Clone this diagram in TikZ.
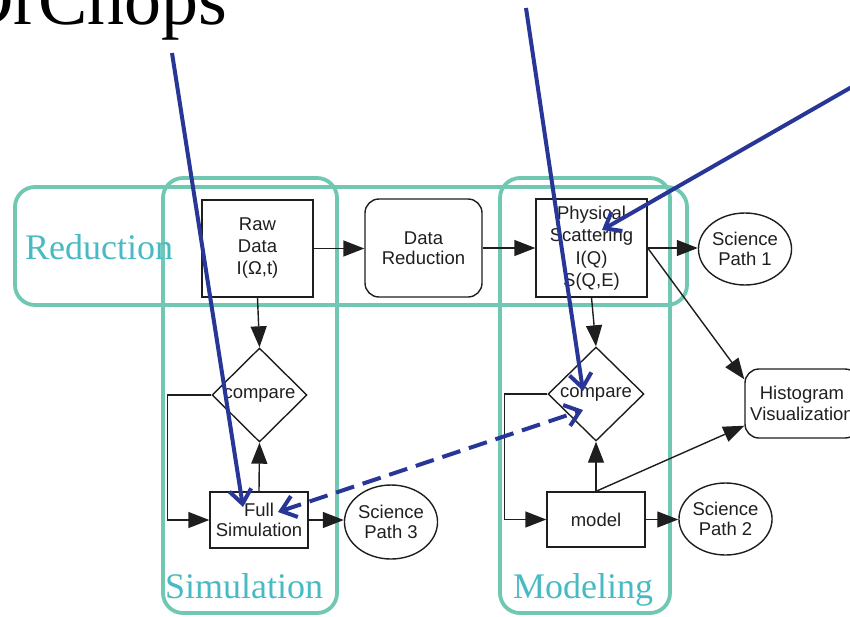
\documentclass[tikz,border=0pt]{standalone}
\usepackage{fontspec}
\setmainfont{Liberation Serif}
\newfontfamily\flowfont{Liberation Sans}
\usetikzlibrary{arrows.meta,shapes.geometric,calc}

\definecolor{groupline}{RGB}{112,200,178}
\definecolor{grouptext}{RGB}{72,186,196}
\definecolor{noteblue}{RGB}{40,54,152}
\definecolor{flowline}{RGB}{30,30,30}

\begin{document}
\begin{tikzpicture}[x=1pt,y=-1pt,
  group/.style={draw=groupline, line width=3.8pt, rounded corners=20pt},
  grouplabel/.style={text=grouptext, font=\fontsize{36}{40}\selectfont, inner sep=0pt, anchor=base west},
  flowtext/.style={font=\flowfont\fontsize{18.5}{20.5}\selectfont, align=center, text=black!88, inner sep=0pt},
  process/.style={flowtext, rectangle, draw=flowline, line width=1.4pt},
  rprocess/.style={process, rounded corners=14pt},
  decision/.style={flowtext, diamond, draw=flowline, line width=1.4pt},
  terminal/.style={flowtext, ellipse, draw=flowline, line width=1.4pt},
  flow/.style={draw=flowline, line width=1.4pt, -{Triangle[length=21pt,width=16pt]}},
  note/.style={draw=noteblue, line width=4pt, -{Straight Barb[length=14pt,width=22pt]}},
  twonote/.style={draw=noteblue, line width=4pt, dash pattern=on 19pt off 9pt,
    {Straight Barb[length=14pt,width=22pt]}-{Straight Barb[length=14pt,width=22pt]}}
]
\useasboundingbox (0,0) rectangle (850,616);
\clip (0,0) rectangle (850,616);

% work-area groups
\draw[group] (15,187) rectangle (687,305);
\draw[group] (163,178) rectangle (337,613);
\draw[group] (500,178) rectangle (670,613);
\node[grouplabel] (lblred) at (25,259) {Reduction};
\node[grouplabel] (lblsim) at (165,598) {Simulation};
\node[grouplabel] (lblmod) at (513,598) {Modeling};

% processing chain
\node[process, minimum width=111pt, minimum height=97pt, font=\flowfont\fontsize{18.5}{22}\selectfont]
  (raw) at (257.5,248.5) {Raw\\Data\\I(Ω,t)};
\node[rprocess, minimum width=117pt, minimum height=98pt] (dred) at (423.5,248) {Data\\Reduction};
\node[process, minimum width=111pt, minimum height=98pt, font=\flowfont\fontsize{18.5}{22.5}\selectfont]
  (phys) at (591.5,248) {Physical\\Scattering\\I(Q)\\S(Q,E)};
\node[terminal, minimum width=80pt, minimum height=72pt] (sp1) at (745,249) {Science\\Path 1};
\node[rprocess, minimum width=114pt, minimum height=69pt] (hist) at (802,403.5) {Histogram\\Visualization};

% simulation loop
\node[decision, minimum width=95pt, minimum height=94pt] (cmp1) at (259.5,395) {compare};
\node[process, minimum width=98pt, minimum height=56pt] (sim) at (259,520) {Full\\Simulation};
\node[terminal, minimum width=82pt, minimum height=74pt] (sp3) at (391,522) {Science\\Path 3};

% modeling loop
\node[decision, minimum width=96pt, minimum height=94pt] (cmp2) at (596,394) {compare};
\node[process, minimum width=98pt, minimum height=55pt] (model) at (596,519.5) {model};
\node[terminal, minimum width=81pt, minimum height=72pt] (sp2) at (725.5,519) {Science\\Path 2};

% flow connectors
\draw[flow] (raw.east) -- (raw.east -| dred.west);
\draw[flow] (dred.east) -- (dred.east -| phys.west);
\draw[flow] (phys.east) -- (phys.east -| sp1.west);
\draw[flow] (phys.east) -- ([yshift=-11pt]hist.north west);
\draw[flow] (raw.south) -- (cmp1.north);
\draw[flow] (sim.north) -- (cmp1.south);
\draw[flow] (cmp1.west) -- ++(-44,0) |- (sim.west);
\draw[flow] (sim.east) -- (sim.east -| sp3.west);
\draw[flow] (phys.south) -- (cmp2.north);
\draw[flow] (model.north) -- (cmp2.south);
\draw[flow] (cmp2.west) -- ++(-43,0) |- (model.west);
\draw[flow] (model.east) -- (model.east -| sp2.west);
\draw[flow] (model.north) -- ([yshift=13pt]hist.south west);

% annotation pointers
\coordinate (noteL) at (172,53);
\coordinate (noteM) at (526,8);
\coordinate (noteR) at (858,83.4);
\coordinate (simtip) at ($(sim.center)+(-16,-13)$);
\coordinate (cmptip) at ($(cmp2.center)+(-13,-3)$);
\coordinate (phystip) at ($(phys.center)+(10.5,-18)$);
\coordinate (simlink) at ($(sim.center)+(19,-8)$);
\coordinate (cmplink) at ($(cmp2.center)+(-13,16)$);
\draw[note] (noteL) -- (simtip);
\draw[note] (noteM) -- (cmptip);
\draw[note] (noteR) -- (phystip);
\draw[twonote] (simlink) -- (cmplink);

\node[anchor=base east, inner sep=0pt, font=\fontsize{74}{78}\selectfont] (drchops) at (228,24) {DrChops};
\end{tikzpicture}
\end{document}
